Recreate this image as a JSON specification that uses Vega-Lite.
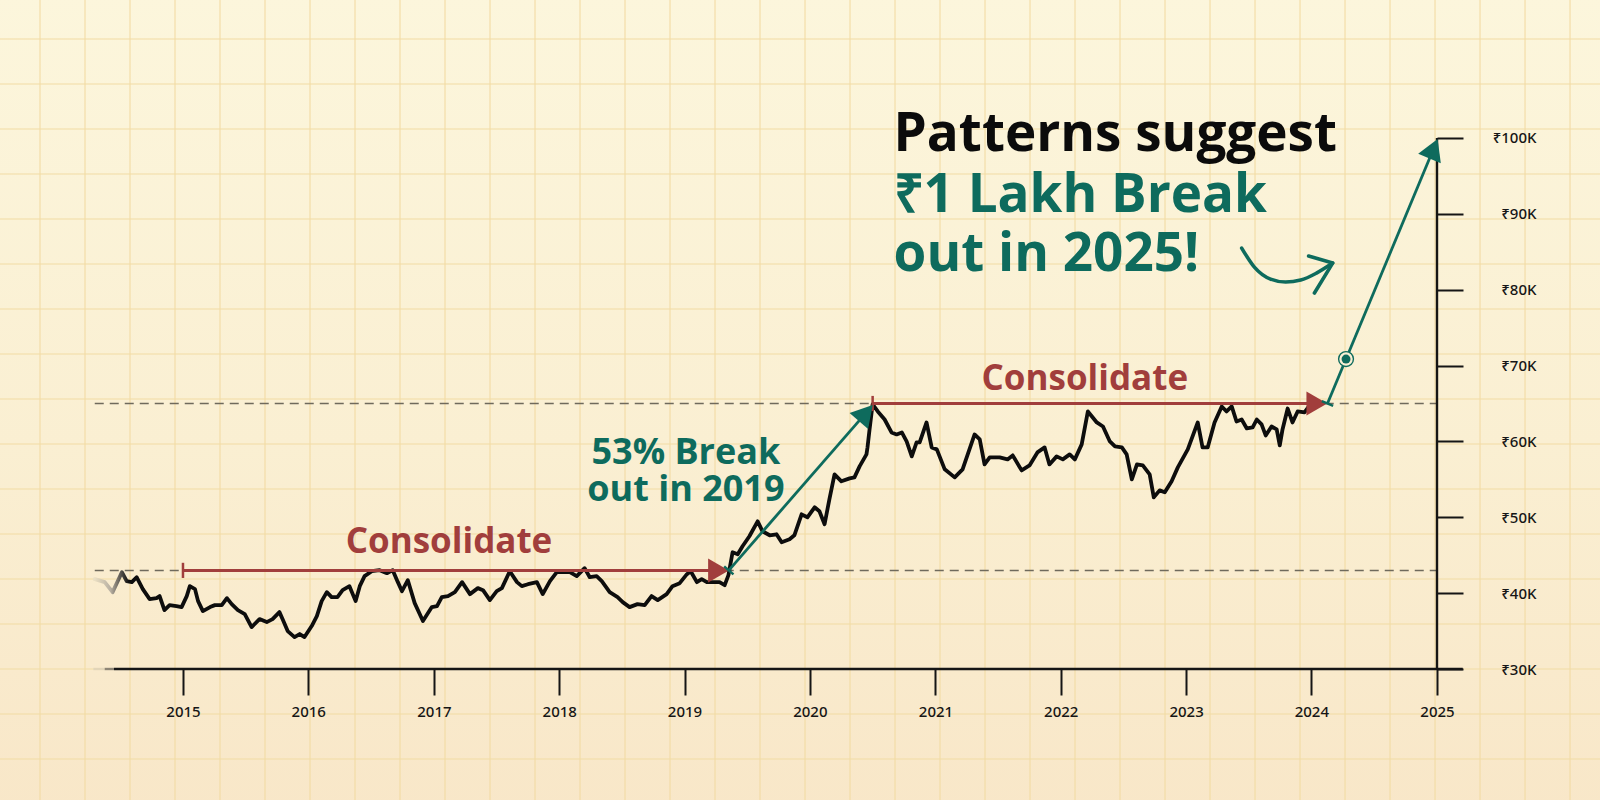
{
  "$schema": "https://vega.github.io/schema/vega-lite/v6.json",
  "width": 1437,
  "height": 669,
  "autosize": {"type": "none"},
  "padding": {"left": 0, "top": 0, "right": 163, "bottom": 131},
  "background": "#f9efd4",
  "config": {"view": {"stroke": null}, "font": "Open Sans"},
  "datasets": {
    "gridCols": [{"col":0},{"col":1},{"col":2},{"col":3},{"col":4},{"col":5},{"col":6},{"col":7},{"col":8},{"col":9},{"col":10},{"col":11},{"col":12},{"col":13},{"col":14},{"col":15},{"col":16},{"col":17},{"col":18},{"col":19},{"col":20},{"col":21},{"col":22},{"col":23},{"col":24},{"col":25},{"col":26},{"col":27},{"col":28},{"col":29},{"col":30},{"col":31},{"col":32},{"col":33},{"col":34}],
    "gridRows": [{"row":0},{"row":1},{"row":2},{"row":3},{"row":4},{"row":5},{"row":6},{"row":7},{"row":8},{"row":9},{"row":10},{"row":11},{"row":12},{"row":13},{"row":14},{"row":15},{"row":16},{"row":17}],
    "price": [
      {"date":"2014-04-19","value":41840},{"date":"2014-05-18","value":41450},{"date":"2014-06-10","value":40130},{"date":"2014-07-07","value":42760},{"date":"2014-07-21","value":41580},{"date":"2014-08-05","value":41450},{"date":"2014-08-19","value":42100},{"date":"2014-09-06","value":40530},{"date":"2014-09-26","value":39210},{"date":"2014-10-16","value":39340},{"date":"2014-10-25","value":39610},{"date":"2014-11-08","value":37760},{"date":"2014-11-23","value":38420},{"date":"2014-12-13","value":38290},{"date":"2014-12-28","value":38160},
      {"date":"2015-01-12","value":39610},{"date":"2015-01-21","value":40920},{"date":"2015-02-05","value":40530},{"date":"2015-02-14","value":38950},{"date":"2015-02-28","value":37630},{"date":"2015-03-21","value":38160},{"date":"2015-04-04","value":38420},{"date":"2015-04-24","value":38420},{"date":"2015-05-09","value":39340},{"date":"2015-05-23","value":38550},{"date":"2015-06-10","value":37760},{"date":"2015-06-30","value":37240},{"date":"2015-07-20","value":35530},{"date":"2015-08-12","value":36580},{"date":"2015-09-02","value":36180},{"date":"2015-09-19","value":36580},{"date":"2015-10-09","value":37500},{"date":"2015-10-18","value":36580},{"date":"2015-11-02","value":35000},{"date":"2015-11-22","value":34210},{"date":"2015-12-07","value":34610},{"date":"2015-12-21","value":34210},
      {"date":"2016-01-11","value":35660},{"date":"2016-01-26","value":36970},{"date":"2016-02-09","value":38950},{"date":"2016-02-24","value":40130},{"date":"2016-03-09","value":39470},{"date":"2016-03-26","value":39470},{"date":"2016-04-10","value":40390},{"date":"2016-04-30","value":40920},{"date":"2016-05-18","value":38950},{"date":"2016-05-30","value":40920},{"date":"2016-06-13","value":42240},{"date":"2016-07-04","value":42890},{"date":"2016-07-27","value":43030},{"date":"2016-08-17","value":42630},{"date":"2016-09-03","value":43030},{"date":"2016-09-18","value":41450},{"date":"2016-09-30","value":40260},{"date":"2016-10-17","value":41710},{"date":"2016-11-06","value":38680},{"date":"2016-11-30","value":36320},{"date":"2016-12-26","value":38160},
      {"date":"2017-01-10","value":38290},{"date":"2017-01-24","value":39470},{"date":"2017-02-11","value":39610},{"date":"2017-03-03","value":40130},{"date":"2017-03-24","value":41450},{"date":"2017-04-16","value":39870},{"date":"2017-05-09","value":40660},{"date":"2017-05-24","value":40390},{"date":"2017-06-13","value":39080},{"date":"2017-07-03","value":40260},{"date":"2017-07-18","value":40660},{"date":"2017-08-10","value":42890},{"date":"2017-08-31","value":41450},{"date":"2017-09-14","value":40920},{"date":"2017-10-02","value":41180},{"date":"2017-10-28","value":41450},{"date":"2017-11-14","value":39870},{"date":"2017-12-05","value":41580},{"date":"2017-12-25","value":42760},
      {"date":"2018-01-17","value":42760},{"date":"2018-02-01","value":42760},{"date":"2018-02-21","value":42240},{"date":"2018-03-16","value":43290},{"date":"2018-03-31","value":42100},{"date":"2018-04-20","value":42240},{"date":"2018-05-05","value":41580},{"date":"2018-05-28","value":40130},{"date":"2018-06-20","value":39470},{"date":"2018-07-05","value":38820},{"date":"2018-07-25","value":38160},{"date":"2018-08-17","value":38550},{"date":"2018-09-07","value":38420},{"date":"2018-09-27","value":39610},{"date":"2018-10-15","value":39080},{"date":"2018-11-10","value":39870},{"date":"2018-11-27","value":40920},{"date":"2018-12-18","value":41320},
      {"date":"2019-01-08","value":42500},{"date":"2019-01-19","value":42890},{"date":"2019-02-06","value":41450},{"date":"2019-02-20","value":41840},{"date":"2019-03-07","value":41450},{"date":"2019-03-24","value":41450},{"date":"2019-04-13","value":41450},{"date":"2019-04-28","value":41050},{"date":"2019-05-09","value":42370},{"date":"2019-05-21","value":45390},{"date":"2019-06-05","value":45130},{"date":"2019-06-19","value":46180},{"date":"2019-07-09","value":47500},{"date":"2019-08-02","value":49470},{"date":"2019-08-16","value":48160},{"date":"2019-09-06","value":47630},{"date":"2019-09-26","value":47760},{"date":"2019-10-11","value":46710},{"date":"2019-11-03","value":47110},{"date":"2019-11-17","value":47630},{"date":"2019-12-08","value":50390},{"date":"2019-12-25","value":50000},
      {"date":"2020-01-15","value":51320},{"date":"2020-01-29","value":50790},{"date":"2020-02-13","value":49080},{"date":"2020-02-27","value":52370},{"date":"2020-03-13","value":55660},{"date":"2020-04-02","value":54740},{"date":"2020-04-26","value":55130},{"date":"2020-05-10","value":55260},{"date":"2020-05-25","value":56710},{"date":"2020-06-14","value":58290},{"date":"2020-06-17","value":59210},{"date":"2020-06-23","value":61580},{"date":"2020-06-29","value":63820},{"date":"2020-07-02","value":64900},{"date":"2020-07-17","value":63950},{"date":"2020-08-06","value":62890},{"date":"2020-08-26","value":61180},{"date":"2020-09-10","value":60920},{"date":"2020-09-25","value":61180},{"date":"2020-10-09","value":60000},{"date":"2020-10-24","value":58030},{"date":"2020-11-07","value":59870},{"date":"2020-11-16","value":59870},{"date":"2020-12-06","value":62500},{"date":"2020-12-21","value":59210},
      {"date":"2021-01-05","value":58950},{"date":"2021-01-28","value":56320},{"date":"2021-02-26","value":55260},{"date":"2021-03-21","value":56320},{"date":"2021-04-25","value":60920},{"date":"2021-05-10","value":60260},{"date":"2021-05-24","value":56970},{"date":"2021-06-08","value":57890},{"date":"2021-07-07","value":57890},{"date":"2021-07-30","value":57630},{"date":"2021-08-14","value":58160},{"date":"2021-09-09","value":56180},{"date":"2021-10-02","value":56840},{"date":"2021-10-25","value":58550},{"date":"2021-11-15","value":59210},{"date":"2021-11-29","value":56970},{"date":"2021-12-20","value":58030},
      {"date":"2022-01-07","value":57630},{"date":"2022-01-27","value":58290},{"date":"2022-02-11","value":57630},{"date":"2022-03-03","value":59610},{"date":"2022-03-21","value":63950},{"date":"2022-04-16","value":62500},{"date":"2022-05-04","value":61970},{"date":"2022-05-24","value":60000},{"date":"2022-06-08","value":59340},{"date":"2022-06-28","value":59210},{"date":"2022-07-12","value":58290},{"date":"2022-07-27","value":55000},{"date":"2022-08-11","value":56970},{"date":"2022-08-28","value":56840},{"date":"2022-09-17","value":55660},{"date":"2022-09-29","value":52630},{"date":"2022-10-16","value":53550},{"date":"2022-10-31","value":53290},{"date":"2022-11-20","value":54740},{"date":"2022-12-08","value":56580},
      {"date":"2023-01-06","value":58950},{"date":"2023-02-04","value":62500},{"date":"2023-02-18","value":59210},{"date":"2023-03-05","value":59210},{"date":"2023-03-25","value":62500},{"date":"2023-04-15","value":64610},{"date":"2023-04-29","value":63950},{"date":"2023-05-14","value":64610},{"date":"2023-05-28","value":62630},{"date":"2023-06-12","value":62890},{"date":"2023-06-27","value":61710},{"date":"2023-07-14","value":61840},{"date":"2023-07-26","value":62890},{"date":"2023-08-09","value":62240},{"date":"2023-08-21","value":60790},{"date":"2023-09-07","value":61970},{"date":"2023-09-22","value":61580},{"date":"2023-10-01","value":59470},{"date":"2023-10-09","value":61580},{"date":"2023-10-24","value":64340},{"date":"2023-11-07","value":62500},{"date":"2023-11-22","value":63950},{"date":"2023-12-12","value":63820},{"date":"2023-12-27","value":64740}
    ]
  },
  "layer": [
    {
      "layer": [
        {
          "data": {"values": [{"c0": -1, "c1": 36, "r0": -1, "r1": 19}]},
          "mark": {"type": "rect", "color": {"gradient": "linear", "x1": 0, "y1": 0, "x2": 0, "y2": 1, "stops": [{"offset": 0, "color": "#fcf6dc"}, {"offset": 0.5, "color": "#faefd2"}, {"offset": 1, "color": "#f8e5c6"}]}},
          "encoding": {
            "x": {"field": "c0", "type": "quantitative", "scale": {"domain": [-0.8889, 31.044], "nice": false, "zero": false}, "axis": null},
            "x2": {"field": "c1"},
            "y": {"field": "r0", "type": "quantitative", "scale": {"domain": [-0.8667, 14.0], "reverse": true, "nice": false, "zero": false}, "axis": null},
            "y2": {"field": "r1"}
          }
        },
        {
          "data": {"name": "gridCols"},
          "mark": {"type": "rule", "color": "#f2dba4", "strokeWidth": 1.1},
          "encoding": {
            "x": {"field": "col", "type": "quantitative", "scale": {"domain": [-0.8889, 31.044], "nice": false, "zero": false}, "axis": null},
            "y": {"datum": -1, "type": "quantitative", "scale": {"domain": [-0.8667, 14.0], "reverse": true, "nice": false, "zero": false}, "axis": null},
            "y2": {"datum": 19}
          }
        },
        {
          "data": {"name": "gridRows"},
          "mark": {"type": "rule", "color": "#f2dba4", "strokeWidth": 1.1},
          "encoding": {
            "y": {"field": "row", "type": "quantitative", "scale": {"domain": [-0.8667, 14.0], "reverse": true, "nice": false, "zero": false}, "axis": null},
            "x": {"datum": -1, "type": "quantitative", "scale": {"domain": [-0.8889, 31.044], "nice": false, "zero": false}, "axis": null},
            "x2": {"datum": 36}
          }
        }
      ]
    },
    {
      "encoding": {
        "x": {
          "field": "date", "type": "temporal",
          "scale": {"type": "utc", "domain": [{"year": 2013, "month": 7, "date": 17, "utc": true}, {"year": 2025, "month": 1, "date": 1, "utc": true}], "nice": false},
          "axis": {
            "orient": "bottom", "title": null, "domain": false, "grid": false, "zindex": 2,
            "values": [{"year": 2015, "month": 1, "date": 1, "utc": true}, {"year": 2016, "month": 1, "date": 1, "utc": true}, {"year": 2017, "month": 1, "date": 1, "utc": true}, {"year": 2018, "month": 1, "date": 1, "utc": true}, {"year": 2019, "month": 1, "date": 1, "utc": true}, {"year": 2020, "month": 1, "date": 1, "utc": true}, {"year": 2021, "month": 1, "date": 1, "utc": true}, {"year": 2022, "month": 1, "date": 1, "utc": true}, {"year": 2023, "month": 1, "date": 1, "utc": true}, {"year": 2024, "month": 1, "date": 1, "utc": true}, {"year": 2025, "month": 1, "date": 1, "utc": true}],
            "format": "%Y", "tickSize": 26, "tickWidth": 2, "tickColor": "#151515",
            "labelFont": "Noto Sans", "labelFontSize": 15, "labelFontWeight": 500, "labelColor": "#161616", "labelPadding": 9, "labelFlush": false, "labelOverlap": false
          }
        },
        "y": {
          "field": "value", "type": "quantitative",
          "scale": {"domain": [30000, 118190], "nice": false, "zero": false},
          "axis": {
            "orient": "right", "title": null, "domain": false, "grid": false, "zindex": 2,
            "values": [30000, 40000, 50000, 60000, 70000, 80000, 90000, 100000],
            "labelExpr": "'₹' + (datum.value / 1000) + 'K'",
            "tickSize": 26, "tickWidth": 2, "tickColor": "#151515",
            "labelAlign": "right", "labelPadding": 73, "labelFont": "Noto Sans", "labelFontSize": 15, "labelFontWeight": 500, "labelColor": "#161616", "labelFlush": false, "labelOverlap": false
          }
        }
      },
      "layer": [
        {
          "data": {"values": [{"date": "2014-04-19", "date2": "2025-01-01", "value": 43000}, {"date": "2014-04-19", "date2": "2025-01-01", "value": 65000}]},
          "mark": {"type": "rule", "color": "#6f6a5c", "strokeWidth": 1.5, "strokeDash": [9, 6]},
          "encoding": {"x2": {"field": "date2"}}
        },
        {
          "data": {"values": [{"date": "2014-04-15", "date2": "2014-05-18", "value": 30000}]},
          "mark": {"type": "rule", "color": "#e2d5b8", "strokeWidth": 2.4},
          "encoding": {"x2": {"field": "date2"}}
        },
        {
          "data": {"values": [{"date": "2014-05-18", "date2": "2014-06-14", "value": 30000}]},
          "mark": {"type": "rule", "color": "#8e8676", "strokeWidth": 2.4},
          "encoding": {"x2": {"field": "date2"}}
        },
        {
          "data": {"values": [{"date": "2014-06-14", "date2": "2025-03-17", "value": 30000}]},
          "mark": {"type": "rule", "color": "#151515", "strokeWidth": 2.4},
          "encoding": {"x2": {"field": "date2"}}
        },
        {
          "data": {"values": [{"date": "2025-01-01", "value": 30000, "value2": 100000}]},
          "mark": {"type": "rule", "color": "#151515", "strokeWidth": 2.4},
          "encoding": {"y2": {"field": "value2"}}
        },
        {
          "data": {"name": "price"},
          "mark": {"type": "line", "strokeWidth": 3.8, "strokeJoin": "round", "strokeCap": "round", "color": {"gradient": "linear", "x1": 0, "y1": 0, "x2": 1, "y2": 0, "stops": [{"offset": 0, "color": "#eadfc3"}, {"offset": 0.013, "color": "#b8b0a2"}, {"offset": 0.028, "color": "#0d0d0d"}, {"offset": 1, "color": "#0d0d0d"}]}},
          "encoding": {}
        },
        {
          "data": {"values": [{"date": "2015-01-01", "date2": "2019-04-10", "value": 43000}, {"date": "2020-07-02", "date2": "2024-01-17", "value": 65000}]},
          "mark": {"type": "rule", "color": "#a13e3c", "strokeWidth": 3},
          "encoding": {"x2": {"field": "date2"}}
        },
        {
          "data": {"values": [{"date": "2015-01-01", "value": 42000, "value2": 44000}, {"date": "2020-07-02", "value": 64000, "value2": 66000}]},
          "mark": {"type": "rule", "color": "#a13e3c", "strokeWidth": 2.5},
          "encoding": {"y2": {"field": "value2"}}
        },
        {
          "data": {"values": [{"date": "2019-04-10", "value": 43000}, {"date": "2024-01-17", "value": 65000}]},
          "mark": {"type": "point", "shape": "triangle-right", "filled": true, "size": 576, "color": "#a13e3c", "opacity": 1}
        },
        {
          "data": {"values": [{"date": "2019-05-10", "value": 43000, "date2": "2020-06-12", "value2": 63740}, {"date": "2024-02-17", "value": 65000, "date2": "2024-12-22", "value2": 98580}]},
          "mark": {"type": "rule", "color": "#0e6b5d", "strokeWidth": 2.8},
          "encoding": {"x2": {"field": "date2"}, "y2": {"field": "value2"}}
        },
        {
          "data": {"values": [{"date": "2020-06-12", "value": 63740}]},
          "mark": {"type": "point", "shape": "triangle-up", "filled": true, "size": 600, "angle": 40.8, "color": "#0e6b5d", "opacity": 1}
        },
        {
          "data": {"values": [{"date": "2024-12-22", "value": 98580}]},
          "mark": {"type": "point", "shape": "triangle-up", "filled": true, "size": 600, "angle": 22.5, "color": "#0e6b5d", "opacity": 1}
        },
        {
          "data": {"values": [{"date": "2019-05-10", "value": 43000}]},
          "mark": {"type": "point", "shape": "M-1,0L1,0", "filled": false, "size": 150, "angle": 40.8, "color": "#0e6b5d", "strokeWidth": 2.5, "opacity": 1}
        },
        {
          "data": {"values": [{"date": "2024-02-17", "value": 65000}]},
          "mark": {"type": "point", "shape": "M-1,0L1,0", "filled": false, "size": 150, "angle": 22.5, "color": "#0e6b5d", "strokeWidth": 2.5, "opacity": 1}
        },
        {
          "data": {"values": [{"date": "2024-04-11", "value": 70860}]},
          "mark": {"type": "point", "shape": "circle", "size": 220, "fill": "#f9efd4", "stroke": "#0e6b5d", "strokeWidth": 1.4, "opacity": 1, "fillOpacity": 1}
        },
        {
          "data": {"values": [{"date": "2024-04-11", "value": 70860}]},
          "mark": {"type": "point", "shape": "circle", "size": 80, "filled": true, "color": "#0e6b5d", "opacity": 1}
        },
        {
          "data": {"values": [{"date": "2023-06-12", "value": 85490}, {"date": "2023-07-19", "value": 82980}, {"date": "2023-09-04", "value": 81400}, {"date": "2023-10-18", "value": 81010}, {"date": "2023-12-01", "value": 81270}, {"date": "2024-01-16", "value": 82190}, {"date": "2024-03-03", "value": 83510}]},
          "mark": {"type": "line", "interpolate": "monotone", "color": "#0e6b5d", "strokeWidth": 3.6, "strokeCap": "round"},
          "encoding": {}
        },
        {
          "data": {"values": [{"date": "2023-12-24", "value": 84430, "seq": 1}, {"date": "2024-03-03", "value": 83510, "seq": 2}, {"date": "2024-01-10", "value": 79560, "seq": 3}]},
          "mark": {"type": "line", "color": "#0e6b5d", "strokeWidth": 3.6, "strokeCap": "round", "strokeJoin": "round"},
          "encoding": {"order": {"field": "seq", "type": "quantitative"}}
        },
        {
          "data": {"values": [{"date": "2017-02-14", "value": 45290, "label": "Consolidate"}, {"date": "2022-03-12", "value": 66770, "label": "Consolidate"}]},
          "mark": {"type": "text", "align": "center", "baseline": "alphabetic", "font": "Open Sans", "fontSize": 35, "fontWeight": 700, "color": "#a13e3c"},
          "encoding": {"text": {"field": "label"}}
        },
        {
          "data": {"values": [{"date": "2019-01-05", "value": 57020, "label": "53% Break\nout in 2019"}]},
          "mark": {"type": "text", "align": "center", "baseline": "alphabetic", "font": "Open Sans", "fontSize": 36, "fontWeight": 700, "lineHeight": 37, "lineBreak": "\n", "color": "#0e6b5d"},
          "encoding": {"text": {"field": "label"}}
        },
        {
          "data": {"values": [{"date": "2020-09-01", "value": 98270, "label": "Patterns suggest"}]},
          "mark": {"type": "text", "align": "left", "baseline": "alphabetic", "font": "Open Sans", "fontSize": 53, "fontWeight": 700, "color": "#0b0b0b"},
          "encoding": {"text": {"field": "label"}}
        },
        {
          "data": {"values": [{"date": "2020-09-01", "value": 90230, "label": "₹1 Lakh Break\nout in 2025!"}]},
          "mark": {"type": "text", "align": "left", "baseline": "alphabetic", "font": "Open Sans", "fontSize": 53, "fontWeight": 700, "lineHeight": 59, "lineBreak": "\n", "color": "#0e6b5d"},
          "encoding": {"text": {"field": "label"}}
        }
      ]
    }
  ],
  "resolve": {"scale": {"x": "independent", "y": "independent"}, "axis": {"x": "independent", "y": "independent"}}
}
